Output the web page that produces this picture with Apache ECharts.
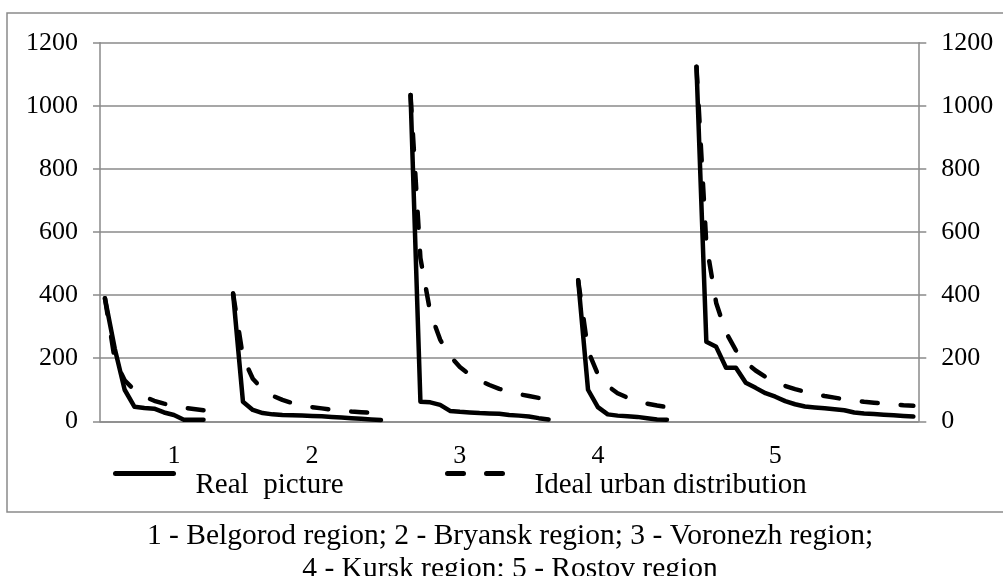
<!DOCTYPE html>
<html><head><meta charset="utf-8">
<script src="https://cdn.jsdelivr.net/npm/echarts@6/dist/echarts.min.js"></script>
<style>html,body{margin:0;padding:0;background:#fff}#c{width:1003px;height:576px}</style>
</head><body><div id="c"></div>
<script>
// ---- data ----
const regionLabels = ['1', '2', '3', '4', '5'];
const labelOffsets = [7, 8, 5, 2, 8];          // which point of each group carries the label
const gapSize = 2;                              // empty categories between groups

const realBelgorod  = [390, 230, 100, 46, 42, 40, 28, 20, 5, 5, 5];
const idealBelgorod = [390, 195, 130, 98, 78, 65, 56, 49, 43, 39, 35];

const realBryansk  = [405, 62, 36, 26, 22, 20, 19, 18, 17, 16, 14, 12, 10, 8, 6, 4];
const idealBryansk = [405, 203, 135, 101, 81, 68, 58, 51, 45, 41, 37, 34, 31, 29, 27, 25];

const realVoronezh  = [1034, 62, 60, 52, 33, 30, 28, 26, 25, 24, 20, 18, 15, 10, 6];
const idealVoronezh = [1034, 517, 345, 259, 207, 172, 148, 129, 115, 103, 94, 86, 80, 74, 69];

const realKursk  = [447, 100, 45, 22, 18, 16, 14, 10, 6, 5];
const idealKursk = [447, 224, 149, 112, 89, 75, 64, 56, 50, 45];

const realRostov  = [1124, 252, 236, 170, 170, 122, 106, 89, 78, 64, 54, 47, 44, 41, 38, 35, 28, 25, 23, 21, 19, 17, 15];
const idealRostov = [1124, 562, 375, 281, 225, 187, 161, 141, 125, 112, 102, 94, 86, 80, 75, 70, 66, 62, 59, 56, 54, 51, 49];

const yMin = 0, yMax = 1200, yStep = 200;
const seriesNames = ['Real  picture', 'Ideal urban distribution'];
const captionLines = [
  '1 - Belgorod region; 2 - Bryansk region; 3 - Voronezh region;',
  '4 - Kursk region; 5 - Rostov region'
];

// ---- build category axis & series with gaps ----
const realGroups = [realBelgorod, realBryansk, realVoronezh, realKursk, realRostov];
const idealGroups = [idealBelgorod, idealBryansk, idealVoronezh, idealKursk, idealRostov];
const categories = [], realData = [], idealData = [];
realGroups.forEach((g, gi) => {
  if (gi > 0) for (let k = 0; k < gapSize; k++) { categories.push(''); realData.push(null); idealData.push(null); }
  g.forEach((v, i) => {
    categories.push(i === labelOffsets[gi] ? regionLabels[gi] : '');
    realData.push(v);
    idealData.push(idealGroups[gi][i]);
  });
});

const FONT = "'Liberation Serif', 'Times New Roman', serif";
const GRAY = '#8a8a8a';
function legendCfg(name, left, iconW, padLeft) {
  return {
    data: [name], left: left, top: 468, padding: 0,
    itemWidth: iconW, itemHeight: 14,
    lineStyle: {width: 5},
    itemStyle: {opacity: 0, borderWidth: 0},
    formatter: '{t|{name}}',
    textStyle: {
      fontFamily: FONT, fontSize: 29, color: '#000',
      rich: {t: {fontFamily: FONT, fontSize: 29, color: '#000', padding: [24, 0, 0, padLeft]}}
    }
  };
}
const chart = echarts.init(document.getElementById('c'), null, {renderer: 'canvas'});
chart.setOption({
  backgroundColor: '#fff',
  animation: false,
  graphic: [{
    type: 'rect', z: -10, silent: true,
    shape: {x: 7, y: 13, width: 1000, height: 499},
    style: {fill: 'none', stroke: GRAY, lineWidth: 1.5}
  }],
  title: {
    text: captionLines.join('\n'),
    left: 510, top: 520, textAlign: 'center', padding: 0,
    textStyle: {fontFamily: FONT, fontSize: 29.5, fontWeight: 'normal', color: '#000', lineHeight: 33}
  },
  legend: [
    legendCfg(seriesNames[0], 113, 58, 17),
    legendCfg(seriesNames[1], 445, 62, 20)
  ],
  grid: {left: 100, right: 84.7, top: 42.7, bottom: 154.7, containLabel: false},
  xAxis: {
    type: 'category', data: categories, boundaryGap: true,
    axisLine: {show: true, lineStyle: {color: GRAY, width: 1.5}},
    axisTick: {show: false},
    axisLabel: {interval: 0, margin: 22, fontFamily: FONT, fontSize: 26, color: '#000'},
    splitLine: {show: false}
  },
  yAxis: [{
    type: 'value', min: yMin, max: yMax, interval: yStep, position: 'left',
    axisLine: {show: true, lineStyle: {color: GRAY, width: 1.5}},
    axisTick: {show: true, length: 7, lineStyle: {color: GRAY, width: 1.5}},
    axisLabel: {margin: 22, fontFamily: FONT, fontSize: 26, color: '#000', formatter: v => String(v)},
    splitLine: {show: true, lineStyle: {color: GRAY, width: 1.5}}
  }, {
    type: 'value', min: yMin, max: yMax, interval: yStep, position: 'right',
    axisLine: {show: true, lineStyle: {color: GRAY, width: 1.5}},
    axisTick: {show: true, length: 8, lineStyle: {color: GRAY, width: 1.5}},
    axisLabel: {margin: 23, fontFamily: FONT, fontSize: 26, color: '#000', formatter: v => String(v)},
    splitLine: {show: false}
  }],
  series: [{
    name: seriesNames[0], type: 'line', data: realData, yAxisIndex: 0,
    symbol: 'none', connectNulls: false,
    lineStyle: {color: '#000', width: 4.5, cap: 'round', join: 'round'},
    itemStyle: {color: '#000'}
  }, {
    name: seriesNames[1], type: 'line', data: idealData, yAxisIndex: 0,
    symbol: 'none', connectNulls: false,
    lineStyle: {color: '#000', width: 4.5, type: [16, 23], cap: 'round', join: 'round'},
    itemStyle: {color: '#000'}
  }]
});
</script>
</body></html>
